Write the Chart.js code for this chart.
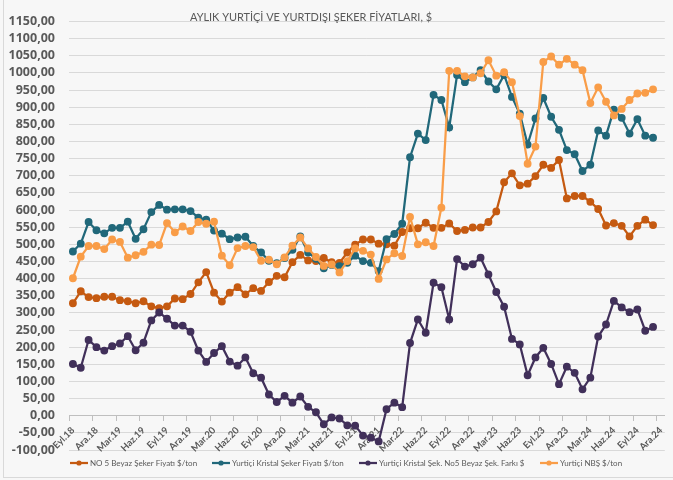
<!DOCTYPE html>
<html>
<head>
<meta charset="utf-8">
<script src="https://cdn.jsdelivr.net/npm/chart.js@4.4.1/dist/chart.umd.min.js"></script>
<style>
  html, body { margin: 0; padding: 0; background: #f7f7f7; }
  #wrap { position: relative; width: 673px; height: 480px; }
  #wrap::before { content: ''; position: absolute; left: 3px; top: 0; bottom: 2px; border-left: 1px solid #d9d9d9; }
  #wrap::after { content: ''; position: absolute; left: 3px; right: 0; bottom: 2px; border-bottom: 1px solid #d9d9d9; }
</style>
</head>
<body>
<div id="wrap"><canvas id="sugarChart" width="673" height="480"></canvas></div>
<script>
const months = [
    'Eyl.18', 'Eki.18', 'Kas.18', 'Ara.18',
    'Oca.19', 'Şub.19', 'Mar.19', 'Nis.19', 'May.19', 'Haz.19', 'Tem.19', 'Ağu.19', 'Eyl.19', 'Eki.19', 'Kas.19', 'Ara.19',
    'Oca.20', 'Şub.20', 'Mar.20', 'Nis.20', 'May.20', 'Haz.20', 'Tem.20', 'Ağu.20', 'Eyl.20', 'Eki.20', 'Kas.20', 'Ara.20',
    'Oca.21', 'Şub.21', 'Mar.21', 'Nis.21', 'May.21', 'Haz.21', 'Tem.21', 'Ağu.21', 'Eyl.21', 'Eki.21', 'Kas.21', 'Ara.21',
    'Oca.22', 'Şub.22', 'Mar.22', 'Nis.22', 'May.22', 'Haz.22', 'Tem.22', 'Ağu.22', 'Eyl.22', 'Eki.22', 'Kas.22', 'Ara.22',
    'Oca.23', 'Şub.23', 'Mar.23', 'Nis.23', 'May.23', 'Haz.23', 'Tem.23', 'Ağu.23', 'Eyl.23', 'Eki.23', 'Kas.23', 'Ara.23',
    'Oca.24', 'Şub.24', 'Mar.24', 'Nis.24', 'May.24', 'Haz.24', 'Tem.24', 'Ağu.24', 'Eyl.24', 'Eki.24', 'Kas.24', 'Ara.24'
];

// $/ton, Eyl.18 - Kas.24
const no5Beyaz = [
    328, 363, 346, 343, 347, 347, 337, 334, 328, 334,
    319, 314, 319, 342, 340, 355, 389, 419, 359, 333,
    359, 375, 354, 372, 364, 390, 408, 404, 448, 469,
    453, 451, 460, 448, 446, 476, 499, 514, 514, 502,
    500, 496, 536, 547, 547, 563, 548, 548, 561, 539,
    542, 549, 549, 565, 596, 681, 707, 672, 677, 699,
    732, 723, 746, 634, 641, 641, 624, 603, 555, 562,
    554, 523, 554, 572, 556
];
const yurticiKristal = [
    479, 502, 565, 541, 532, 548, 548, 566, 516, 544,
    594, 615, 601, 602, 602, 597, 578, 572, 540, 531,
    515, 520, 522, 495, 476, 452, 445, 460, 484, 523,
    476, 458, 430, 440, 436, 446, 467, 451, 446, 422,
    515, 530, 560, 754, 823, 804, 936, 921, 841, 994,
    973, 987, 1008, 975, 952, 994, 930, 881, 791, 867,
    927, 872, 834, 775, 763, 714, 732, 832, 817, 893,
    869, 823, 865, 817, 811
];
const kristalNo5Fark = [
    151, 140, 221, 200, 190, 203, 211, 232, 191, 213,
    278, 301, 283, 263, 263, 245, 190, 157, 183, 203,
    158, 146, 170, 124, 111, 62, 40, 58, 38, 56,
    26, 10, -25, -5, -8, -28, -29, -58, -64, -75,
    19, 38, 25, 212, 281, 242, 388, 375, 281, 457,
    435, 442, 461, 412, 361, 318, 224, 208, 118, 170,
    198, 151, 92, 143, 125, 77, 111, 231, 266, 335,
    316, 302, 310, 248, 259
];
const yurticiNbs = [
    401, 464, 495, 495, 486, 514, 507, 461, 468, 478,
    499, 498, 562, 535, 552, 539, 565, 560, 566, 467,
    439, 489, 495, 492, 452, 455, 442, 462, 496, 520,
    488, 463, 437, 441, 418, 451, 488, 481, 470, 399,
    456, 474, 466, 580, 500, 506, 495, 607, 1006, 1006,
    990, 987, 999, 1037, 992, 1002, 973, 874, 735, 785,
    1032, 1048, 1024, 1041, 1024, 1008, 912, 958, 916, 876,
    895, 921, 940, 942, 952
];

const titleText = 'AYLIK YURTİÇİ VE YURTDIŞI ŞEKER FİYATLARI, $';
const textGrey = '#595959';
const gridGrey = '#d9d9d9';

function series(label, data, color, order) {
    return {
        label: label,
        data: data,
        borderColor: color,
        backgroundColor: color,
        pointBackgroundColor: color,
        pointBorderColor: color,
        borderWidth: 2.25,
        pointRadius: 2.8,
        pointHoverRadius: 3,
        tension: 0,
        order: order // later excel series sit on top
    };
}

// chart title sits inside the plot, between the top gridlines
const titlePlugin = {
    id: 'innerTitle',
    afterDraw(chart) {
        const ctx = chart.ctx;
        ctx.save();
        ctx.font = '11px Lato';
        ctx.fillStyle = textGrey;
        ctx.textBaseline = 'middle';
        const w = ctx.measureText(titleText).width;
        ctx.translate(190, 17);
        ctx.scale(242 / w, 1);
        ctx.fillText(titleText, 0, 0);
        ctx.restore();
    }
};

// legend with line + marker symbols, like the excel one
const legendPlugin = {
    id: 'lineLegend',
    afterDraw(chart) {
        const ctx = chart.ctx;
        const starts = [70, 212, 359, 540];
        const y = 463;
        ctx.save();
        ctx.font = '8px Lato';
        ctx.textBaseline = 'middle';
        chart.data.datasets.forEach((d, i) => {
            const x = starts[i];
            ctx.strokeStyle = d.borderColor;
            ctx.lineWidth = 2.25;
            ctx.beginPath();
            ctx.moveTo(x, y);
            ctx.lineTo(x + 18, y);
            ctx.stroke();
            ctx.fillStyle = d.borderColor;
            ctx.beginPath();
            ctx.arc(x + 9, y, 2.6, 0, Math.PI * 2);
            ctx.fill();
            ctx.fillStyle = textGrey;
            ctx.fillText(d.label, x + 20, y);
        });
        ctx.restore();
    }
};

const ctx = document.getElementById('sugarChart').getContext('2d');
const sugarChart = new Chart(ctx, {
    type: 'line',
    data: {
        labels: months,
        datasets: [
            series('NO 5 Beyaz Şeker Fiyatı $/ton', no5Beyaz, '#c55a11', 3),
            series('Yurtiçi Kristal Şeker Fiyatı $/ton', yurticiKristal, '#21687a', 2),
            series('Yurtiçi Kristal Şek. No5 Beyaz Şek. Farkı $', kristalNo5Fark, '#41305a', 1),
            series('Yurtiçi NBŞ $/ton', yurticiNbs, '#f99d48', 0)
        ]
    },
    options: {
        responsive: false,
        animation: false,
        layout: { padding: { top: 8, left: 0, right: 4, bottom: 30 } },
        plugins: {
            legend: { display: false },
            title: { display: false },
            tooltip: { enabled: false }
        },
        scales: {
            x: {
                type: 'category',
                position: { y: 0 },
                offset: true,
                grid: {
                    offset: true,
                    drawOnChartArea: false,
                    drawTicks: true,
                    tickLength: 5,
                    tickColor: (c) => (c.index % 3 === 0 ? '#bfbfbf' : 'rgba(0,0,0,0)')
                },
                border: { display: true, color: '#bfbfbf', width: 1 },
                ticks: {
                    autoSkip: false,
                    minRotation: 45,
                    maxRotation: 45,
                    padding: 4,
                    color: textGrey,
                    font: { family: 'Lato', size: 9.5, weight: 'bold' },
                    callback: function(value, index) {
                        return index % 3 === 0 ? this.getLabelForValue(value) : '';
                    }
                }
            },
            y: {
                min: -100,
                max: 1150,
                afterFit: (scale) => { scale.width = 69; },
                grid: { color: gridGrey, drawTicks: false },
                border: { display: false },
                ticks: {
                    stepSize: 50,
                    autoSkip: false,
                    padding: 14,
                    color: textGrey,
                    font: { family: 'Open Sans', size: 12.5, weight: 'bold' },
                    callback: (v) => v.toFixed(2).replace('.', ',')
                }
            }
        }
    },
    plugins: [titlePlugin, legendPlugin]
});
</script>
</body>
</html>
